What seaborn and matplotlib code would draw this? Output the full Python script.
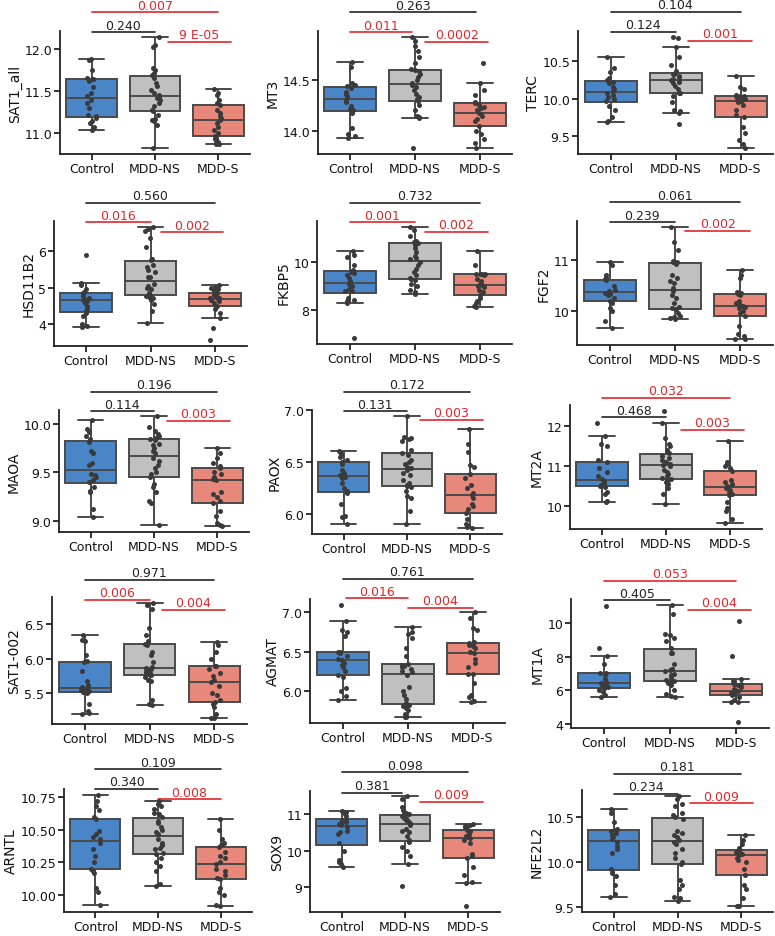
import numpy as np
import pandas as pd
import matplotlib
matplotlib.use("Agg")
import matplotlib.pyplot as plt
import matplotlib.transforms as mtransforms
import seaborn as sns

np.random.seed(3)

groups = ["Control", "MDD-NS", "MDD-S"]

SAT1_all = {"Control": [11.04, 11.08, 11.12, 11.15, 11.18, 11.20, 11.22, 11.30, 11.36, 11.40, 11.44, 11.48, 11.55, 11.62, 11.64, 11.65, 11.66, 11.75, 11.87, 11.88],
            "MDD-NS": [10.82, 11.10, 11.15, 11.16, 11.17, 11.22, 11.26, 11.28, 11.32, 11.36, 11.40, 11.42, 11.43, 11.45, 11.48, 11.52, 11.56, 11.60, 11.66, 11.69, 11.72, 11.75, 11.78, 12.03, 12.05, 12.15],
            "MDD-S": [10.87, 10.87, 10.88, 10.90, 10.93, 10.97, 11.00, 11.04, 11.08, 11.12, 11.16, 11.18, 11.20, 11.24, 11.28, 11.34, 11.36, 11.40, 11.45, 11.48, 11.53]}
MT3 = {"Control": [13.93, 13.95, 13.97, 14.03, 14.18, 14.20, 14.21, 14.24, 14.28, 14.30, 14.33, 14.34, 14.36, 14.38, 14.42, 14.44, 14.45, 14.47, 14.62, 14.67],
       "MDD-NS": [13.83, 14.13, 14.14, 14.15, 14.20, 14.25, 14.29, 14.31, 14.33, 14.36, 14.40, 14.43, 14.45, 14.47, 14.50, 14.53, 14.56, 14.58, 14.59, 14.60, 14.66, 14.72, 14.78, 14.83, 14.88, 14.92],
       "MDD-S": [13.83, 13.88, 13.92, 13.97, 14.00, 14.05, 14.10, 14.12, 14.15, 14.17, 14.18, 14.20, 14.22, 14.23, 14.25, 14.27, 14.28, 14.35, 14.40, 14.47, 14.66]}
TERC = {"Control": [9.69, 9.70, 9.75, 9.85, 9.90, 9.97, 10.00, 10.02, 10.05, 10.08, 10.10, 10.12, 10.15, 10.20, 10.22, 10.25, 10.27, 10.35, 10.40, 10.55],
        "MDD-NS": [9.66, 9.81, 9.83, 9.85, 9.95, 10.03, 10.07, 10.08, 10.12, 10.16, 10.20, 10.22, 10.23, 10.25, 10.26, 10.28, 10.30, 10.32, 10.33, 10.34, 10.36, 10.45, 10.55, 10.68, 10.80, 10.82],
        "MDD-S": [9.34, 9.40, 9.45, 9.55, 9.62, 9.75, 9.78, 9.85, 9.92, 9.95, 9.97, 9.98, 10.00, 10.02, 10.03, 10.03, 10.04, 10.05, 10.12, 10.15, 10.30]}
HSD11B2 = {"Control": [3.92, 3.95, 4.00, 4.22, 4.30, 4.35, 4.42, 4.50, 4.58, 4.63, 4.67, 4.68, 4.72, 4.78, 4.85, 4.87, 4.95, 5.08, 5.13, 5.90],
           "MDD-NS": [4.03, 4.35, 4.55, 4.65, 4.70, 4.75, 4.78, 4.80, 4.85, 4.95, 5.00, 5.05, 5.10, 5.28, 5.30, 5.42, 5.48, 5.55, 5.62, 5.75, 5.78, 6.10, 6.35, 6.55, 6.62, 6.67],
           "MDD-S": [3.55, 3.90, 4.17, 4.30, 4.40, 4.48, 4.50, 4.58, 4.62, 4.65, 4.68, 4.70, 4.72, 4.75, 4.80, 4.85, 4.90, 4.97, 5.00, 5.02, 5.07]}
FKBP5 = {"Control": [6.85, 8.32, 8.40, 8.45, 8.50, 8.78, 8.80, 8.90, 9.00, 9.10, 9.20, 9.35, 9.45, 9.55, 9.60, 9.65, 9.85, 10.20, 10.30, 10.45],
         "MDD-NS": [8.68, 8.75, 8.85, 9.00, 9.10, 9.25, 9.30, 9.35, 9.45, 9.60, 9.70, 9.85, 10.00, 10.10, 10.15, 10.25, 10.40, 10.55, 10.70, 10.78, 10.80, 10.82, 10.85, 11.05, 11.30, 11.45],
         "MDD-S": [8.15, 8.20, 8.30, 8.40, 8.50, 8.65, 8.75, 8.85, 8.95, 9.00, 9.05, 9.10, 9.20, 9.30, 9.45, 9.50, 9.50, 9.52, 9.52, 9.85, 10.45]}
FGF2 = {"Control": [9.67, 9.80, 10.00, 10.05, 10.15, 10.20, 10.25, 10.30, 10.33, 10.35, 10.37, 10.38, 10.40, 10.48, 10.60, 10.62, 10.65, 10.70, 10.90, 10.95],
        "MDD-NS": [9.84, 9.85, 9.86, 9.88, 9.90, 9.95, 10.03, 10.06, 10.08, 10.15, 10.25, 10.30, 10.38, 10.45, 10.55, 10.58, 10.65, 10.70, 10.92, 10.93, 10.95, 10.96, 10.98, 11.20, 11.35, 11.65],
        "MDD-S": [9.44, 9.45, 9.50, 9.55, 9.70, 9.90, 9.95, 10.00, 10.05, 10.08, 10.10, 10.12, 10.15, 10.20, 10.30, 10.33, 10.35, 10.36, 10.65, 10.70, 10.80]}
MAOA = {"Control": [9.04, 9.12, 9.30, 9.31, 9.35, 9.40, 9.42, 9.45, 9.47, 9.48, 9.58, 9.60, 9.70, 9.72, 9.82, 9.85, 9.88, 9.92, 9.95, 10.04],
        "MDD-NS": [8.96, 9.18, 9.20, 9.30, 9.35, 9.38, 9.45, 9.48, 9.50, 9.55, 9.58, 9.62, 9.65, 9.70, 9.72, 9.75, 9.78, 9.80, 9.84, 9.85, 9.86, 9.88, 9.90, 9.93, 9.97, 10.09],
        "MDD-S": [8.94, 8.95, 8.98, 9.05, 9.10, 9.18, 9.20, 9.25, 9.28, 9.30, 9.42, 9.43, 9.45, 9.48, 9.50, 9.55, 9.57, 9.60, 9.65, 9.70, 9.75]}
PAOX = {"Control": [5.90, 5.97, 5.98, 6.10, 6.20, 6.22, 6.25, 6.30, 6.35, 6.36, 6.38, 6.40, 6.42, 6.48, 6.50, 6.52, 6.55, 6.58, 6.60, 6.61],
        "MDD-NS": [5.90, 6.03, 6.15, 6.17, 6.22, 6.26, 6.27, 6.28, 6.30, 6.33, 6.38, 6.40, 6.42, 6.44, 6.45, 6.48, 6.50, 6.52, 6.57, 6.59, 6.62, 6.70, 6.72, 6.73, 6.74, 6.95],
        "MDD-S": [5.86, 5.87, 5.88, 5.90, 5.95, 6.01, 6.05, 6.08, 6.10, 6.15, 6.18, 6.20, 6.25, 6.28, 6.35, 6.39, 6.45, 6.47, 6.60, 6.68, 6.82]}
MT2A = {"Control": [10.10, 10.12, 10.30, 10.35, 10.48, 10.50, 10.52, 10.55, 10.60, 10.63, 10.68, 10.75, 10.85, 10.95, 11.10, 11.14, 11.50, 11.55, 11.75, 12.10],
        "MDD-NS": [10.05, 10.30, 10.45, 10.55, 10.60, 10.65, 10.67, 10.70, 10.75, 10.80, 10.85, 10.90, 11.00, 11.03, 11.05, 11.10, 11.15, 11.20, 11.25, 11.33, 11.40, 11.50, 11.55, 11.70, 12.10, 12.40],
        "MDD-S": [9.55, 9.65, 9.85, 9.95, 10.10, 10.27, 10.30, 10.35, 10.40, 10.45, 10.48, 10.50, 10.55, 10.60, 10.65, 10.87, 10.95, 11.00, 11.05, 11.10, 11.62]}
SAT1_002 = {"Control": [5.20, 5.22, 5.25, 5.35, 5.50, 5.52, 5.53, 5.55, 5.55, 5.57, 5.59, 5.62, 5.68, 5.83, 5.95, 5.97, 6.05, 6.25, 6.27, 6.35],
            "MDD-NS": [5.33, 5.35, 5.40, 5.68, 5.70, 5.74, 5.76, 5.78, 5.79, 5.80, 5.82, 5.84, 5.85, 5.87, 5.88, 5.95, 6.05, 6.10, 6.20, 6.22, 6.25, 6.35, 6.45, 6.72, 6.78, 6.81],
            "MDD-S": [5.14, 5.15, 5.20, 5.30, 5.35, 5.38, 5.40, 5.47, 5.50, 5.60, 5.66, 5.70, 5.75, 5.80, 5.85, 5.89, 5.90, 6.00, 6.10, 6.20, 6.24]}
AGMAT = {"Control": [5.88, 5.93, 6.00, 6.03, 6.18, 6.20, 6.25, 6.30, 6.33, 6.35, 6.39, 6.40, 6.45, 6.48, 6.50, 6.50, 6.70, 6.75, 6.78, 6.89, 7.10],
         "MDD-NS": [5.66, 5.67, 5.70, 5.75, 5.78, 5.80, 5.82, 5.84, 5.90, 5.95, 6.00, 6.05, 6.20, 6.24, 6.25, 6.28, 6.30, 6.32, 6.33, 6.34, 6.45, 6.55, 6.68, 6.72, 6.75, 6.81],
         "MDD-S": [5.86, 5.87, 5.92, 5.95, 6.10, 6.21, 6.22, 6.30, 6.35, 6.40, 6.48, 6.50, 6.55, 6.57, 6.58, 6.61, 6.62, 6.78, 6.80, 6.93, 7.00]}
MT1A = {"Control": [5.60, 5.70, 5.90, 6.00, 6.15, 6.16, 6.20, 6.25, 6.30, 6.38, 6.46, 6.50, 6.65, 6.90, 7.02, 7.05, 7.55, 8.05, 8.55, 11.05],
        "MDD-NS": [5.58, 5.65, 5.80, 6.00, 6.30, 6.45, 6.52, 6.55, 6.60, 6.75, 6.90, 7.00, 7.15, 7.20, 7.25, 7.30, 7.60, 8.20, 8.25, 8.50, 8.95, 9.15, 9.30, 9.35, 10.55, 11.10],
        "MDD-S": [4.10, 5.28, 5.30, 5.45, 5.60, 5.70, 5.75, 5.80, 5.85, 5.90, 5.95, 6.00, 6.10, 6.20, 6.30, 6.38, 6.40, 6.55, 6.65, 8.05, 10.15]}
ARNTL = {"Control": [9.92, 10.02, 10.05, 10.17, 10.18, 10.20, 10.25, 10.30, 10.35, 10.40, 10.43, 10.44, 10.47, 10.49, 10.58, 10.60, 10.65, 10.68, 10.72, 10.77],
         "MDD-NS": [10.07, 10.08, 10.18, 10.22, 10.25, 10.28, 10.31, 10.32, 10.35, 10.36, 10.38, 10.40, 10.43, 10.47, 10.48, 10.50, 10.52, 10.55, 10.57, 10.60, 10.62, 10.63, 10.66, 10.68, 10.70, 10.72],
         "MDD-S": [9.91, 9.92, 10.00, 10.02, 10.05, 10.12, 10.13, 10.15, 10.18, 10.20, 10.24, 10.25, 10.28, 10.30, 10.33, 10.37, 10.38, 10.40, 10.43, 10.50, 10.58]}
SOX9 = {"Control": [9.57, 9.65, 9.70, 9.75, 10.00, 10.20, 10.45, 10.50, 10.55, 10.65, 10.70, 10.72, 10.75, 10.78, 10.85, 10.87, 10.95, 11.00, 11.05, 11.09],
        "MDD-NS": [9.05, 9.65, 9.85, 10.00, 10.10, 10.25, 10.27, 10.30, 10.40, 10.50, 10.55, 10.60, 10.70, 10.75, 10.80, 10.85, 10.88, 10.90, 10.95, 11.00, 11.02, 11.05, 11.10, 11.20, 11.40, 11.48],
        "MDD-S": [8.48, 9.12, 9.15, 9.35, 9.55, 9.79, 9.85, 9.90, 10.20, 10.30, 10.36, 10.38, 10.40, 10.45, 10.55, 10.57, 10.60, 10.65, 10.68, 10.70, 10.72]}
NFE2L2 = {"Control": [9.62, 9.65, 9.75, 9.85, 9.88, 9.92, 10.10, 10.15, 10.18, 10.22, 10.26, 10.28, 10.30, 10.33, 10.35, 10.36, 10.37, 10.45, 10.55, 10.59],
          "MDD-NS": [9.57, 9.60, 9.62, 9.70, 9.75, 9.80, 9.98, 10.00, 10.05, 10.10, 10.15, 10.20, 10.23, 10.25, 10.28, 10.30, 10.32, 10.35, 10.48, 10.50, 10.52, 10.55, 10.62, 10.65, 10.70, 10.74],
          "MDD-S": [9.51, 9.52, 9.60, 9.70, 9.75, 9.86, 9.92, 10.00, 10.02, 10.05, 10.08, 10.09, 10.10, 10.11, 10.12, 10.14, 10.15, 10.16, 10.20, 10.25, 10.30]}

genes = ["SAT1_all", "MT3", "TERC", "HSD11B2", "FKBP5", "FGF2", "MAOA", "PAOX", "MT2A",
         "SAT1-002", "AGMAT", "MT1A", "ARNTL", "SOX9", "NFE2L2"]
gene_data = [SAT1_all, MT3, TERC, HSD11B2, FKBP5, FGF2, MAOA, PAOX, MT2A,
             SAT1_002, AGMAT, MT1A, ARNTL, SOX9, NFE2L2]

# p-values: (Control vs MDD-NS, MDD-NS vs MDD-S, Control vs MDD-S)
pvals = [["0.240", "9 E-05", "0.007"], ["0.011", "0.0002", "0.263"], ["0.124", "0.001", "0.104"],
         ["0.016", "0.002", "0.560"], ["0.001", "0.002", "0.732"], ["0.239", "0.002", "0.061"],
         ["0.114", "0.003", "0.196"], ["0.131", "0.003", "0.172"], ["0.468", "0.003", "0.032"],
         ["0.006", "0.004", "0.971"], ["0.016", "0.004", "0.761"], ["0.405", "0.004", "0.053"],
         ["0.340", "0.008", "0.109"], ["0.381", "0.009", "0.098"], ["0.234", "0.009", "0.181"]]

yticks = [[11.0, 11.5, 12.0], [14.0, 14.5], [9.5, 10.0, 10.5],
          [4, 5, 6], [8, 10], [10, 11],
          [9.0, 9.5, 10.0], [6.0, 6.5, 7.0], [10, 11, 12],
          [5.5, 6.0, 6.5], [6.0, 6.5, 7.0], [4, 6, 8, 10],
          [10.00, 10.25, 10.50, 10.75], [9, 10, 11], [9.5, 10.0, 10.5]]
ytick_fmt = ["{:.1f}", "{:.1f}", "{:.1f}", "{:.0f}", "{:.0f}", "{:.0f}", "{:.1f}", "{:.1f}", "{:.0f}",
             "{:.1f}", "{:.1f}", "{:.0f}", "{:.2f}", "{:.0f}", "{:.1f}"]

# ---------------- layout / style ----------------
W, H = 775, 937
rects = [(60, 32, 190, 123), (318, 32, 194, 123), (578, 32, 195, 123),
         (54, 222, 193, 125), (317, 222, 195, 123), (577, 222, 196, 124),
         (59, 411, 190, 122), (312, 411, 190, 124), (570, 406, 192, 124),
         (52, 598, 195, 127), (310, 600, 195, 124), (571, 600, 198, 129),
         (64, 790, 188, 123), (310, 792, 190, 121), (582, 791, 191, 122)]
# bracket geometry: (x1, x2, y in axes fraction) for the three comparisons
brackets = [[(0, 1, 0.99), (1.2, 2.2, 0.913), (0, 2, 1.152)],
            [(0, 0.95, 0.99), (1.16, 2.13, 0.913), (0, 1.95, 1.152)],
            [(0, 1, 0.994), (1.19, 2.18, 0.919), (0, 2, 1.157)],
            [(0, 1, 0.99), (1.16, 2.12, 0.91), (0, 2, 1.144)],
            [(0, 1, 0.99), (1.16, 2.13, 0.91), (0, 2, 1.15)],
            [(0, 1, 0.99), (1.16, 2.15, 0.92), (0, 2, 1.15)],
            [(0, 1, 0.99), (1.2, 2.2, 0.91), (0, 2, 1.15)],
            [(0, 1, 0.99), (1.2, 2.2, 0.92), (0, 2, 1.148)],
            [(0, 1, 0.90), (1.23, 2.22, 0.80), (0, 2, 1.056)],
            [(0, 1, 0.98), (1.19, 2.16, 0.90), (0, 2, 1.134)],
            [(0.05, 1.0, 1.005), (1.0, 2.0, 0.93), (0, 2, 1.16)],
            [(0, 1, 0.99), (1.27, 2.23, 0.915), (0, 2, 1.14)],
            [(0, 1, 1.0), (1.0, 2.0, 0.917), (0, 2, 1.16)],
            [(0, 0.95, 0.985), (1.23, 2.23, 0.91), (0, 2, 1.155)],
            [(0, 1, 0.97), (1.2, 2.18, 0.89), (0, 2, 1.13)]]
RED, BLK = "#e3262b", "#222222"
bcolors = [[BLK, RED, RED], [RED, RED, BLK], [BLK, RED, BLK], [RED, RED, BLK], [RED, RED, BLK],
           [BLK, RED, BLK], [BLK, RED, BLK], [BLK, RED, BLK], [BLK, RED, RED], [RED, RED, BLK],
           [RED, RED, BLK], [BLK, RED, RED], [BLK, RED, BLK], [BLK, RED, BLK], [BLK, RED, BLK]]

palette = {"Control": "#4a86c7", "MDD-NS": "#c0c0c0", "MDD-S": "#e8887b"}

sns.set_style("ticks")
plt.rcParams["font.family"] = ["DejaVu Sans"]
plt.rcParams["axes.linewidth"] = 1.3
plt.rcParams["xtick.major.width"] = 1.3
plt.rcParams["ytick.major.width"] = 1.3
plt.rcParams["xtick.major.size"] = 4
plt.rcParams["ytick.major.size"] = 4
plt.rcParams["axes.edgecolor"] = "#222222"

fig = plt.figure(figsize=(W / 100, H / 100), dpi=100)

for i, gene in enumerate(genes):
    d = gene_data[i]
    df = pd.DataFrame({"group": np.repeat(groups, [len(d[g]) for g in groups]),
                       "value": np.concatenate([d[g] for g in groups])})
    l, t, w, h = rects[i]
    ax = fig.add_axes([l / W, 1 - (t + h) / H, w / W, h / H])
    sns.boxplot(data=df, x="group", y="value", order=groups, hue="group", hue_order=groups,
                palette=palette, saturation=1, width=0.8, linewidth=1.4, linecolor="#4a4a4a",
                showfliers=False, legend=False, ax=ax)
    sns.stripplot(data=df, x="group", y="value", order=groups, color="#3a3a3a", size=3.6,
                  jitter=0.08, ax=ax)
    ax.set_xlabel("")
    ax.set_ylabel(gene, fontsize=10, color="#111111", labelpad=2)
    ax.set_yticks(yticks[i])
    ax.set_yticklabels([ytick_fmt[i].format(v) for v in yticks[i]])
    ax.tick_params(axis="both", labelsize=9, colors="#222222", labelcolor="#111111", pad=1.5)
    ax.set_xlim(-0.5, 2.5)
    sns.despine(ax=ax)
    trans = mtransforms.blended_transform_factory(ax.transData, ax.transAxes)
    for (x1, x2, yf), lab, col in zip(brackets[i], pvals[i], bcolors[i]):
        ax.plot([x1, x2], [yf, yf], color=col, lw=1.2, transform=trans, clip_on=False)
        ax.annotate(lab, xy=((x1 + x2) / 2, yf), xycoords=trans, xytext=(0, 0.5),
                    textcoords="offset points", ha="center", va="bottom", fontsize=9,
                    color=col, annotation_clip=False)

fig.savefig("out.png", dpi=100)
